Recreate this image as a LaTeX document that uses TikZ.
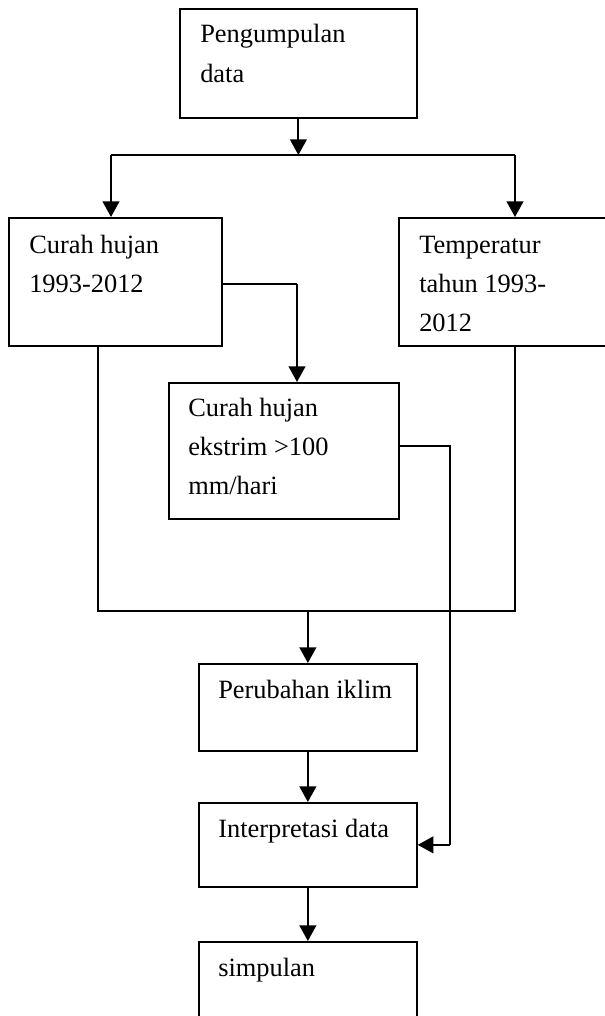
\documentclass[tikz,border=0pt]{standalone}
\usepackage{fontspec}
\setmainfont{Liberation Serif}
\usepackage{tikz}
\usetikzlibrary{arrows.meta}
\newcommand{\boxtext}[1]{\parbox[t]{160pt}{\raggedright #1}}

\begin{document}
\begin{tikzpicture}[x=0.75pt,y=0.75pt]
    \tikzstyle{every node}+=[inner sep=0pt]
    \tikzstyle{box}=[draw=black, line width=1.3pt, anchor=north west, rectangle]
    \tikzstyle{lbl}=[anchor=base west, font=\fontsize{19.8}{29.6}\selectfont]
    \tikzstyle{line}=[black, line width=1pt]
    \tikzstyle{arr}=[black, line width=1.5pt, -{Triangle[length=11.8pt,width=12.6pt]}]
    \useasboundingbox (0,0) rectangle (605,-1016);
    \clip (0,0) rectangle (605,-1016);
    \node [box, minimum width=177.75pt, minimum height=81.75pt] (data) at (179,-8) {};
    \node [lbl] (datat) at (200,-43) {\boxtext{Pengumpulan\\data}};
    \node [box, minimum width=159.75pt, minimum height=96pt] (curah) at (8,-217) {};
    \node [lbl] (curaht) at (29,-253) {\boxtext{Curah hujan\\1993-2012}};
    \node [box, minimum width=166.5pt, minimum height=96pt] (temp) at (398,-217) {};
    \node [lbl] (tempt) at (419,-253) {\boxtext{Temperatur\\tahun 1993-\\2012}};
    \node [box, minimum width=172.5pt, minimum height=102pt] (ekstrim) at (168,-382) {};
    \node [lbl] (ekstrimt) at (188,-416) {\boxtext{Curah hujan\\ekstrim >100\\mm/hari}};
    \node [box, minimum width=163.5pt, minimum height=65.25pt] (iklim) at (198,-663) {};
    \node [lbl] (iklimt) at (218,-698) {\boxtext{Perubahan iklim}};
    \node [box, minimum width=163.5pt, minimum height=63pt] (interp) at (198,-802) {};
    \node [lbl] (interpt) at (218,-837) {\boxtext{Interpretasi data}};
    \node [box, minimum width=163.5pt, minimum height=66.75pt] (simpul) at (198,-941) {};
    \node [lbl] (simpult) at (218,-976) {\boxtext{simpulan}};
    \coordinate (lft) at (111,-155);
    \coordinate (rgt) at (515,-155);
    \coordinate (jl) at (98,-611);
    \coordinate (jr) at (515,-611);
    \coordinate (drop) at (297,-284);
    \coordinate (bend) at (450,-446);
    \draw [arr] (data.south) -- (data.south |- lft);
    \draw [line] (lft) -- (rgt);
    \draw [arr] (lft) -- (lft |- curah.north);
    \draw [arr] (rgt) -- (rgt |- temp.north);
    \draw [line] (curah.east |- drop) -- (drop);
    \draw [arr] (drop) -- (drop |- ekstrim.north);
    \draw [line] (jl |- curah.south) -- (jl) -- (jr) -- (jr |- temp.south);
    \draw [arr] (iklim.north |- jl) -- (iklim.north);
    \draw [arr] (iklim.south) -- (interp.north);
    \draw [arr] (interp.south) -- (simpul.north);
    \draw [line] (ekstrim.east |- bend) -- (bend) -- (bend |- interp.east);
    \draw [arr] (bend |- interp.east) -- (interp.east);
\end{tikzpicture}
\end{document}
